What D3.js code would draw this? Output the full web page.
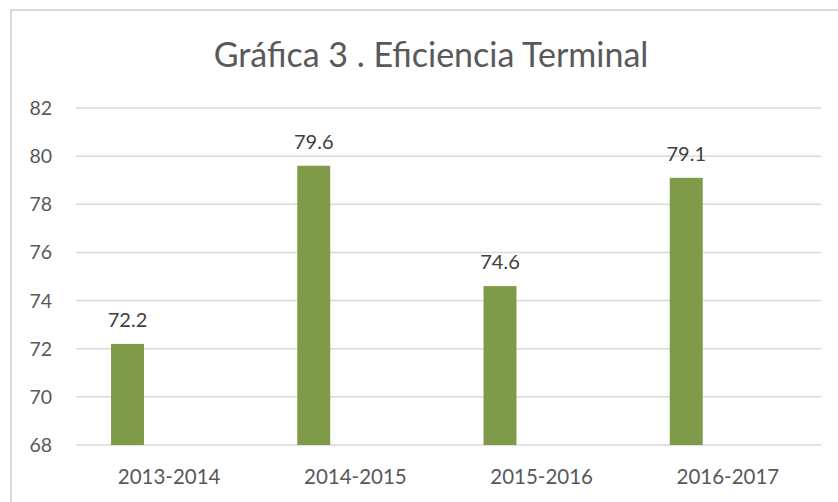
<!DOCTYPE html>
<html>
<head>
<meta charset="utf-8">
<script src="https://cdn.jsdelivr.net/npm/d3@7"></script>
<style>
  body { margin: 0; background: #fff; }
  text { font-family: Lato, "Noto Sans", sans-serif; }
</style>
</head>
<body>
<svg id="chart" width="838" height="502"></svg>
<script>
const data = [
    { ciclo: '2013-2014', valor: 72.2 },
    { ciclo: '2014-2015', valor: 79.6 },
    { ciclo: '2015-2016', valor: 74.6 },
    { ciclo: '2016-2017', valor: 79.1 }
]

const svg = d3.select('#chart')
const plot = { left: 76, right: 821, top: 108, bottom: 445 }

// chart frame (runs off the right and bottom edges)
svg.append('rect')
    .attr('x', 11).attr('y', 10)
    .attr('width', 860).attr('height', 520)
    .attr('fill', '#fff')
    .attr('stroke', '#d9d9d9')
    .attr('stroke-width', 2)

svg.append('text')
    .attr('x', 431).attr('y', 67)
    .attr('text-anchor', 'middle')
    .attr('font-size', 34)
    .attr('font-weight', 400)
    .attr('fill', '#595959')
    .text('Gráfica 3 . Eficiencia Terminal')

const x = d3.scaleBand()
    .domain(data.map(d => d.ciclo))
    .range([plot.left, plot.right])
    .padding(0)

const y = d3.scaleLinear()
    .domain([68, 82])
    .range([plot.bottom, plot.top])

const ticks = d3.range(68, 83, 2)

svg.append('g')
    .attr('stroke', '#d9d9d9')
    .attr('stroke-width', 1.5)
  .selectAll('line')
  .data(ticks)
  .join('line')
    .attr('x1', plot.left)
    .attr('x2', plot.right)
    .attr('y1', d => y(d))
    .attr('y2', d => y(d))

svg.append('g')
  .selectAll('text')
  .data(ticks)
  .join('text')
    .attr('x', 52)
    .attr('y', d => y(d))
    .attr('dy', '0.36em')
    .attr('text-anchor', 'end')
    .attr('font-size', 19.5)
    .attr('fill', '#595959')
    .text(d => d)

// bars sit in the left part of each category, like the Excel original
const barX = d => x(d.ciclo) + x.bandwidth() * 0.188
const barW = x.bandwidth() * 0.177

svg.append('g')
  .selectAll('rect')
  .data(data)
  .join('rect')
    .attr('x', barX)
    .attr('y', d => y(d.valor))
    .attr('width', barW)
    .attr('height', d => y(68) - y(d.valor))
    .attr('fill', '#7f9a48')

svg.append('g')
  .selectAll('text')
  .data(data)
  .join('text')
    .attr('x', d => barX(d) + barW / 2)
    .attr('y', d => y(d.valor) - 17)
    .attr('text-anchor', 'middle')
    .attr('font-size', 20)
    .attr('fill', '#404040')
    .text(d => d.valor.toFixed(1))

svg.append('g')
  .selectAll('text')
  .data(data)
  .join('text')
    .attr('x', d => x(d.ciclo) + x.bandwidth() / 2)
    .attr('y', 484)
    .attr('text-anchor', 'middle')
    .attr('font-size', 20.5)
    .attr('fill', '#595959')
    .text(d => d.ciclo)
</script>
</body>
</html>
